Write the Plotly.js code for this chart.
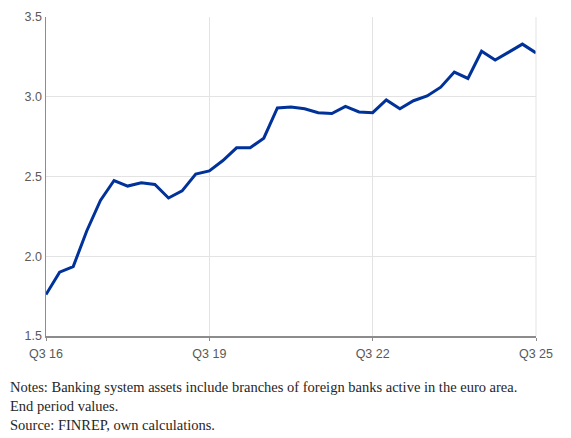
<!DOCTYPE html>
<html>
<head>
<meta charset="utf-8">
<script src="https://cdn.plot.ly/plotly-3.0.1.min.js"></script>
<style>html,body{margin:0;padding:0;background:#fff;}#chart{width:571px;height:438px;}</style>
</head>
<body>
<div id="chart"></div>
<script>
var quarters = ["Q3 16","Q4 16","Q1 17","Q2 17","Q3 17","Q4 17","Q1 18","Q2 18","Q3 18","Q4 18",
  "Q1 19","Q2 19","Q3 19","Q4 19","Q1 20","Q2 20","Q3 20","Q4 20","Q1 21","Q2 21",
  "Q3 21","Q4 21","Q1 22","Q2 22","Q3 22","Q4 22","Q1 23","Q2 23","Q3 23","Q4 23",
  "Q1 24","Q2 24","Q3 24","Q4 24","Q1 25","Q2 25","Q3 25"];
var assets = [1.76,1.90,1.935,2.16,2.35,2.475,2.44,2.46,2.45,2.365,
  2.41,2.515,2.535,2.60,2.68,2.68,2.74,2.93,2.935,2.925,
  2.90,2.895,2.94,2.905,2.90,2.98,2.925,2.975,3.005,3.06,
  3.155,3.115,3.285,3.23,3.28,3.33,3.275];
var xTicks = ["Q3 16","Q3 19","Q3 22","Q3 25"];
var yTicks = [1.5,2.0,2.5,3.0,3.5];
var notes = "Notes: Banking system assets include branches of foreign banks active in the euro area.<br>End period values.<br>Source: FINREP, own calculations.";

var trace = {
  x: quarters, y: assets, type: "scatter", mode: "lines",
  line: {color: "#003299", width: 3}, hoverinfo: "x+y"
};
var layout = {
  width: 571, height: 438,
  margin: {l: 46, r: 35, t: 17, b: 102},
  paper_bgcolor: "#fff", plot_bgcolor: "#fff",
  showlegend: false,
  font: {family: "Liberation Sans", size: 12, color: "#595959"},
  xaxis: {
    type: "category", range: [0, 36],
    tickmode: "array", tickvals: xTicks, ticktext: xTicks,
    showgrid: true, gridcolor: "#e3e3e3", gridwidth: 1,
    showline: true, linecolor: "#8c8c8c", linewidth: 1.5,
    ticks: "outside", ticklen: 3, tickcolor: "#8c8c8c",
    ticklabelstandoff: 2,
    zeroline: false, mirror: false,
    tickfont: {family: "Liberation Sans", size: 12.5, color: "#595959"}
  },
  yaxis: {
    range: [1.5, 3.5], tickmode: "array", tickvals: yTicks,
    ticktext: yTicks.map(function(v){return v.toFixed(1);}),
    showgrid: true, gridcolor: "#e3e3e3", gridwidth: 1,
    showline: true, linecolor: "#8c8c8c", linewidth: 1.5,
    ticks: "", zeroline: false,
    tickfont: {family: "Liberation Sans", size: 12.5, color: "#595959"}
  },
  shapes: [
    {type: "line", xref: "paper", yref: "paper", x0: 1, x1: 1, y0: 0, y1: 1,
     line: {color: "#e3e3e3", width: 1}}
  ],
  annotations: [{
    xref: "paper", yref: "paper", x: -0.078, y: -0.128,
    xanchor: "left", yanchor: "top", align: "left", showarrow: false,
    text: notes,
    font: {family: "Liberation Serif", size: 14.5, color: "#262626"}
  }]
};
Plotly.newPlot("chart", [trace], layout, {displayModeBar: false, staticPlot: true});
</script>
</body>
</html>
